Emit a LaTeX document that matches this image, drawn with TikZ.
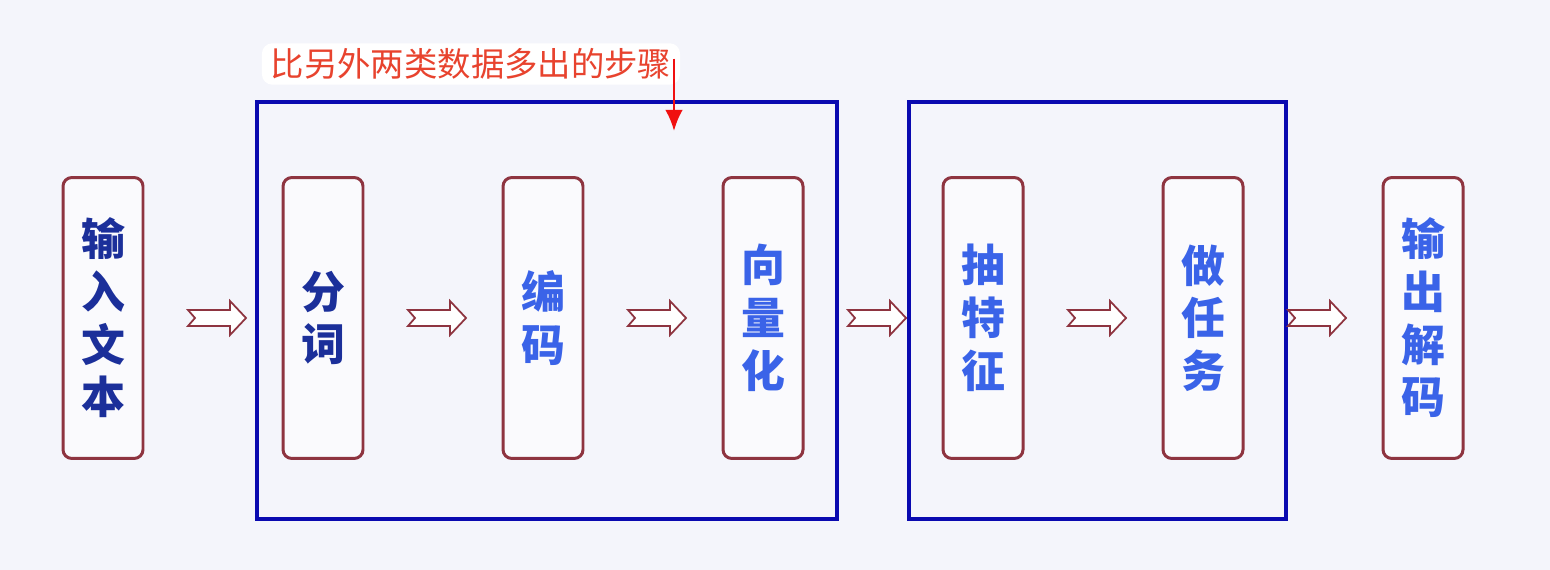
\documentclass[tikz,border=0pt]{standalone}
\usepackage{fontspec}
\newfontfamily\cjk{Noto Sans CJK SC}
\usetikzlibrary{positioning,calc,arrows.meta}
\definecolor{pagebg}{HTML}{F4F5FB}
\definecolor{boxred}{HTML}{8E3440}
\definecolor{navytext}{HTML}{1B2F9A}
\definecolor{bluetext}{HTML}{3A63E8}
\definecolor{framblue}{HTML}{0A0AB0}
\definecolor{notered}{HTML}{E8432E}
\definecolor{hintred}{HTML}{F01010}

\begin{document}
\begin{tikzpicture}[x=0.02cm, y=-0.02cm, >=Latex,
  stepbox/.style={draw=boxred, line width=1.7pt, rounded corners=5pt,
    fill=white!50!pagebg, minimum width=1.6cm, minimum height=5.62cm,
    inner sep=0pt, align=center, font=\cjk\bfseries\fontsize{25}{30}\selectfont},
  groupframe/.style={draw=framblue, line width=2.3pt},
  flowarrow/.style={draw=boxred, line width=1pt, fill=white, line join=miter},
  hollowarrow/.pic={
    \draw[flowarrow] (-28,-8) -- (14,-8) -- (14,-17) -- (30,0) -- (14,17)
      -- (14,8) -- (-28,8) -- (-21,0) -- cycle;
  }]

% page
\fill[pagebg] (0,0) rectangle (1550,570);

% groups
\draw[groupframe] (257,102) rectangle (837,519);
\draw[groupframe] (909,102) rectangle (1286,519);

% steps
\foreach \n/\t/\c [count=\i from 0] in {in/{输\\入\\文\\本}/navytext,
    seg/{分\\词}/navytext, enc/{编\\码}/bluetext, vec/{向\\量\\化}/bluetext,
    feat/{抽\\特\\征}/bluetext, task/{做\\任\\务}/bluetext,
    out/{输\\出\\解\\码}/bluetext}
  \node[stepbox, text=\c] (\n) at (103+220*\i,318) {\t};

\foreach \a/\b in {in/seg, seg/enc, enc/vec, vec/feat, feat/task, task/out}
  \pic at ($(\a.east)!0.5!(\b.west)+(3,0)$) {hollowarrow};

% note
\node[fill=white, rounded corners=6pt, inner xsep=5pt, inner ysep=3pt,
  text=notered, font=\cjk\fontsize{19}{22}\selectfont] (note) at (471,64)
  {比另外两类数据多出的步骤};
\coordinate (hinttip) at (674,131);
\draw[hintred, line width=1.4pt, -{Latex[length=12pt, width=10pt]}]
  ([yshift=3pt]hinttip |- note.east) -- (hinttip);

\end{tikzpicture}
\end{document}
